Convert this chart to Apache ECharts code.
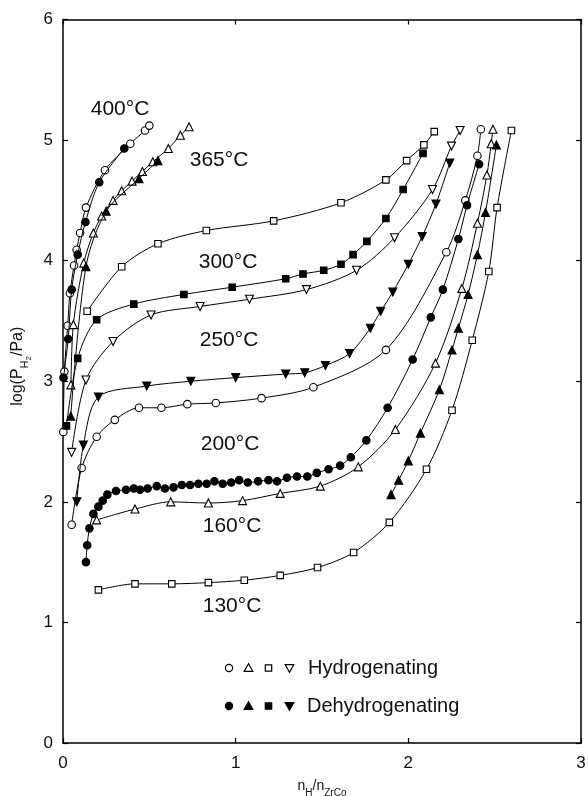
<!DOCTYPE html>
<html><head><meta charset="utf-8">
<script src="https://cdn.jsdelivr.net/npm/echarts@6/dist/echarts.min.js"></script>
<style>html,body{margin:0;padding:0;background:#fff}#c{width:588px;height:796px}</style>
</head><body><div id="c"></div>
<script>
// Axis ticks
const xTicks = [0, 1, 2, 3];
const yTicks = [0, 1, 2, 3, 4, 5, 6];

// 400°C
const h400 = [[0.002,2.58],[0.008,3.08],[0.027,3.46],[0.04,3.73],[0.064,3.96],[0.079,4.09],[0.099,4.23],[0.133,4.44],[0.243,4.75],[0.39,4.97],[0.475,5.08],[0.50,5.12]];
const d400 = [[0.003,3.03],[0.03,3.35],[0.05,3.76],[0.085,4.05],[0.13,4.32],[0.21,4.65],[0.355,4.93]];
// 365°C
const h365 = [[0.046,2.97],[0.06,3.47],[0.12,3.98],[0.176,4.23],[0.224,4.37],[0.29,4.50],[0.34,4.58],[0.40,4.66],[0.46,4.74],[0.52,4.82],[0.61,4.93],[0.68,5.04],[0.73,5.11]];
const d365 = [[0.045,2.71],[0.133,3.95],[0.25,4.41],[0.44,4.68],[0.55,4.83]];
// 300°C
const h300 = [[0.14,3.58],[0.34,3.95],[0.55,4.14],[0.83,4.25],[1.22,4.33],[1.61,4.48],[1.87,4.67],[1.99,4.83],[2.09,4.96],[2.15,5.07]];
const d300 = [[0.02,2.63],[0.085,3.19],[0.195,3.51],[0.41,3.64],[0.70,3.72],[0.98,3.78],[1.29,3.85],[1.39,3.89],[1.51,3.92],[1.61,3.97],[1.68,4.05],[1.76,4.16],[1.87,4.35],[1.97,4.59],[2.085,4.89]];
// 250°C
const h250 = [[0.05,2.41],[0.133,3.01],[0.29,3.33],[0.51,3.55],[0.794,3.62],[1.08,3.68],[1.41,3.76],[1.70,3.92],[1.92,4.19],[2.14,4.59],[2.25,4.95],[2.30,5.08]];
const d250 = [[0.08,2.0],[0.118,2.47],[0.205,2.87],[0.485,2.96],[0.74,3.0],[1.0,3.03],[1.29,3.06],[1.40,3.07],[1.52,3.13],[1.66,3.23],[1.78,3.44],[1.84,3.58],[1.91,3.74],[2.0,3.97],[2.08,4.2],[2.16,4.47],[2.24,4.81]];
// 200°C
const h200 = [[0.05,1.81],[0.108,2.28],[0.195,2.54],[0.30,2.68],[0.44,2.78],[0.57,2.78],[0.72,2.81],[0.885,2.82],[1.15,2.86],[1.45,2.95],[1.87,3.26],[2.22,4.07],[2.33,4.50],[2.40,4.87],[2.42,5.09]];
const d200 = [[0.133,1.50],[0.14,1.64],[0.153,1.78],[0.176,1.90],[0.205,1.96],[0.23,2.01],[0.257,2.06],[0.307,2.09],[0.365,2.10],[0.41,2.11],[0.446,2.10],[0.49,2.11],[0.543,2.13],[0.59,2.11],[0.64,2.12],[0.688,2.14],[0.736,2.14],[0.784,2.15],[0.832,2.15],[0.877,2.17],[0.925,2.15],[0.974,2.16],[1.02,2.18],[1.07,2.16],[1.13,2.17],[1.19,2.18],[1.24,2.17],[1.297,2.20],[1.355,2.21],[1.415,2.21],[1.47,2.24],[1.538,2.27],[1.605,2.30],[1.667,2.37],[1.757,2.51],[1.88,2.78],[2.025,3.18],[2.13,3.53],[2.20,3.76],[2.29,4.18],[2.34,4.46],[2.41,4.80]];
// 160°C
const h160 = [[0.195,1.85],[0.417,1.94],[0.624,2.00],[0.842,1.99],[1.04,2.01],[1.258,2.07],[1.49,2.13],[1.71,2.29],[1.925,2.60],[2.157,3.15],[2.31,3.77],[2.40,4.31],[2.455,4.71],[2.48,4.97],[2.49,5.09]];
const d160 = [[1.90,2.06],[1.944,2.18],[2.0,2.34],[2.07,2.57],[2.18,2.93],[2.253,3.26],[2.29,3.44],[2.346,3.72],[2.40,4.05],[2.447,4.40],[2.51,4.96]];
// 130°C
const h130 = [[0.205,1.27],[0.417,1.32],[0.63,1.32],[0.842,1.33],[1.05,1.35],[1.258,1.39],[1.474,1.455],[1.683,1.58],[1.89,1.83],[2.105,2.27],[2.253,2.76],[2.37,3.34],[2.466,3.91],[2.514,4.44],[2.597,5.08]];

// Temperature labels [text, x(px), y(px)]
const tempLabels = [['400°C',120,109],['365°C',219,160],['300°C',228,262],['250°C',229,340],['200°C',230,444],['160°C',232,526],['130°C',232,606]];

const defs = [
  [h400,'circle',false,0],[d400,'circle',true,0],
  [h365,'triangle',false,0],[d365,'triangle',true,0],
  [h300,'rect',false,0],[d300,'rect',true,0],
  [h250,'triangle',false,180],[d250,'triangle',true,180],
  [h200,'circle',false,0],[d200,'circle',true,0],
  [h160,'triangle',false,0],[d160,'triangle',true,0],
  [h130,'rect',false,0]
];
const symSize = {circle:7.5, triangle:8, rect:6.5};

const series = defs.map(([data, sym, filled, rot]) => ({
  type:'line', data, smooth:0.3, symbol:sym, symbolSize:symSize[sym], symbolRotate:rot,
  showAllSymbol:true, animation:false, z: filled?3:2,
  lineStyle:{color:'#000', width:1},
  itemStyle:{color: filled?'#000':'#fff', borderColor:'#000', borderWidth:1.1},
  emphasis:{disabled:true}
}));

const font = 'Liberation Sans, Arial, sans-serif';
const axisCommon = (pos, isX, showLabel) => ({
  type:'value', min:0, max: isX?3:6, interval:1, position:pos,
  axisLine:{show:true, onZero:false, lineStyle:{color:'#000', width:1.5}},
  axisTick:{show:true, inside:true, length:5, lineStyle:{color:'#000', width:1.2}},
  axisLabel:{show:showLabel, fontSize:17, color:'#111', fontFamily:font, margin: isX?12:10},
  splitLine:{show:false}
});

const xMain = Object.assign(axisCommon('bottom', true, true), {
  name:'{n|n}{s|H}{n|/n}{s|ZrCo}', nameLocation:'middle', nameGap:33,
  nameTextStyle:{fontFamily:font, color:'#111', rich:{
    n:{fontSize:14, fontFamily:font, color:'#111', lineHeight:20, verticalAlign:'middle'},
    s:{fontSize:10, fontFamily:font, color:'#111', lineHeight:20, verticalAlign:'bottom', padding:[0,0,-2,0]}
  }}
});
const yMain = Object.assign(axisCommon('left', false, true), {
  name:'{n|log(P}{s|H}{ss|2}{n|/Pa)}', nameLocation:'middle', nameGap:31,
  nameTextStyle:{fontFamily:font, color:'#111', padding:[0,0,0,30], rich:{
    n:{fontSize:16, fontFamily:font, color:'#111', lineHeight:22, verticalAlign:'middle'},
    s:{fontSize:11, fontFamily:font, color:'#111', lineHeight:22, verticalAlign:'bottom', padding:[0,0,-2,0]},
    ss:{fontSize:8, fontFamily:font, color:'#111', lineHeight:22, verticalAlign:'bottom', padding:[0,0,-4,0]}
  }}
});

// Legend
const legendX = [229, 248.5, 268.5, 289.5];
const legendRows = [[668,false,'Hydrogenating',308],[706,true,'Dehydrogenating',307]];
const graphic = [];
legendRows.forEach(([y, filled, txt, tx]) => {
  const st = {fill: filled?'#000':'#fff', stroke:'#000', lineWidth:1.2};
  graphic.push({type:'circle', shape:{cx:legendX[0], cy:y, r:3.6}, style:st});
  graphic.push({type:'polygon', shape:{points:[[legendX[1],y-4.2],[legendX[1]-4.3,y+3.3],[legendX[1]+4.3,y+3.3]]}, style:st});
  graphic.push({type:'rect', shape:{x:legendX[2]-3.2, y:y-3.2, width:6.4, height:6.4}, style:st});
  graphic.push({type:'polygon', shape:{points:[[legendX[3],y+4.2],[legendX[3]-4.3,y-3.3],[legendX[3]+4.3,y-3.3]]}, style:st});
  graphic.push({type:'text', x:tx, y:y, style:{text:txt, fontSize:20, fontFamily:font, fill:'#111', verticalAlign:'middle', align:'left'}});
});
tempLabels.forEach(([t,x,y]) => {
  graphic.push({type:'text', x, y, style:{text:t, fontSize:21, fontFamily:font, fill:'#111', align:'center', verticalAlign:'middle'}});
});

const chart = echarts.init(document.getElementById('c'), null, {renderer:'canvas'});
chart.setOption({
  backgroundColor:'#fff', animation:false,
  grid:{left:63, right:7, top:19.5, bottom:53, containLabel:false, outerBoundsMode:'none'},
  xAxis:[xMain, axisCommon('top', true, false)],
  yAxis:[yMain, axisCommon('right', false, false)],
  series, graphic
});
</script></body></html>
